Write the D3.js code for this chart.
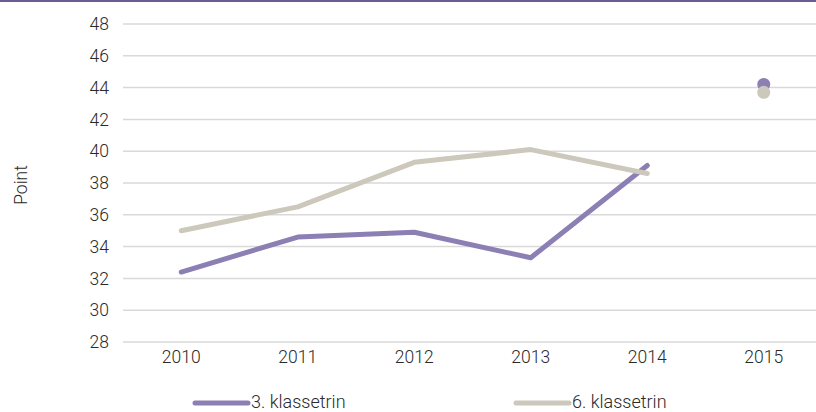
<!DOCTYPE html>
<html>
<head>
<meta charset="utf-8">
<script src="https://cdn.jsdelivr.net/npm/d3@7"></script>
<style>
  body { margin: 0; background: #fff; }
  svg { display: block; font-family: Roboto, "Noto Sans", sans-serif; }
</style>
</head>
<body>
<svg id="chart" width="816" height="412"></svg>
<script>
const years = ["2010", "2011", "2012", "2013", "2014", "2015"];
const grade3 = [32.4, 34.6, 34.9, 33.3, 39.1, 44.2];
const grade6 = [35.0, 36.5, 39.3, 40.1, 38.6, 43.7];
const yTicks = [28, 30, 32, 34, 36, 38, 40, 42, 44, 46, 48];
const seriesNames = ["3. klassetrin", "6. klassetrin"];

const purple = "#8b7fb3", grey = "#ccc8bb";

let svg = d3.select("#chart");

// top rule
svg.append("rect").attr("x", 0).attr("y", 0).attr("width", 816).attr("height", 2)
  .attr("fill", "#6b5b95");

let x = d3.scaleBand().domain(years).range([123, 822]);
let y = d3.scaleLinear().domain([28, 48]).range([342, 24]);

// grid
svg.selectAll(".grid")
  .data(yTicks)
  .join("line")
  .attr("class", "grid")
  .attr("x1", 123).attr("x2", 816)
  .attr("y1", d => y(d)).attr("y2", d => y(d))
  .attr("stroke", "#d9d9d9").attr("stroke-width", 1.5);

// y axis labels
let yAxis = svg.append("g")
  .attr("transform", "translate(109,0)")
  .call(d3.axisLeft(y).tickValues(yTicks).tickSize(0).tickPadding(0));
yAxis.select(".domain").remove();
yAxis.selectAll("text").attr("font-size", 17.5).attr("fill", "#2a2a2a")
  .attr("font-weight", 300)
  .attr("font-family", "Roboto, sans-serif");

// x axis labels
let xAxis = svg.append("g")
  .attr("transform", "translate(0,351)")
  .call(d3.axisBottom(x).tickSize(0).tickPadding(0));
xAxis.select(".domain").remove();
xAxis.selectAll("text").attr("font-size", 17.5).attr("fill", "#2a2a2a")
  .attr("font-weight", 300)
  .attr("font-family", "Roboto, sans-serif");

// y title
svg.append("text")
  .attr("transform", "translate(27,185) rotate(-90)")
  .attr("text-anchor", "middle")
  .attr("font-size", 17.5).attr("font-weight", 300).attr("fill", "#2a2a2a")
  .text("Point");

let cx = d => x(d) + x.bandwidth() / 2;
let line = d3.line().x(d => cx(d.year)).y(d => y(d.v));

function draw(vals, color) {
  let pts = years.map((yr, i) => ({year: yr, v: vals[i]}));
  svg.append("path")
    .datum(pts.slice(0, 5))
    .attr("d", line)
    .attr("fill", "none")
    .attr("stroke", color)
    .attr("stroke-width", 5)
    .attr("stroke-linecap", "round")
    .attr("stroke-linejoin", "round");
  svg.append("circle")
    .attr("cx", cx(pts[5].year))
    .attr("cy", y(pts[5].v))
    .attr("r", 6.5)
    .attr("fill", color);
}
draw(grade3, purple);
draw(grade6, grey);

// legend
let legend = svg.selectAll(".legend")
  .data(seriesNames)
  .join("g")
  .attr("class", "legend")
  .attr("transform", (d, i) => `translate(${i === 0 ? 195 : 516},403)`);
legend.append("line")
  .attr("x1", 0).attr("x2", 53)
  .attr("stroke", (d, i) => i === 0 ? purple : grey)
  .attr("stroke-width", 5)
  .attr("stroke-linecap", "round");
legend.append("text")
  .attr("x", 56).attr("y", 5)
  .attr("font-size", 18).attr("font-weight", 300).attr("fill", "#2a2a2a")
  .text(d => d);
</script>
</body>
</html>
